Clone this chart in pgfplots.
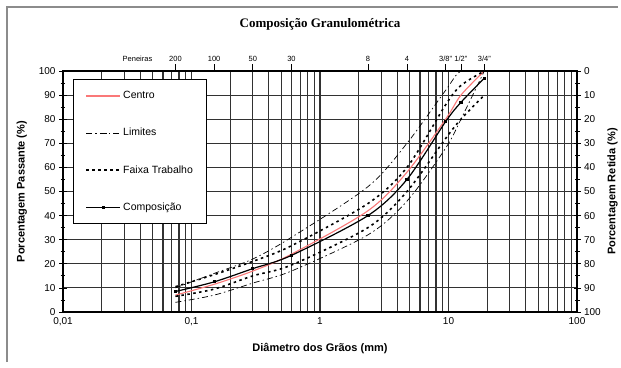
\documentclass[border=0pt]{standalone}
\usepackage{pgfplots}
\pgfplotsset{compat=1.18}
\usepackage{fontspec}
\setmainfont{Liberation Sans}
\newfontfamily\titlefont{Liberation Serif}
\definecolor{centro}{RGB}{250,120,120}
\definecolor{gridc}{RGB}{50,50,50}
\begin{document}
\begin{tikzpicture}
\path[use as bounding box] (0,0) rectangle (621pt,367pt);
\draw[black!45, line width=1.5pt] (7pt,5pt) -- (7pt,360pt) -- (618pt,360pt);
\begin{axis}[
  at={(63pt,55pt)}, anchor=south west, scale only axis,
  width=514pt, height=241pt,
  xmode=log, xmin=0.01, xmax=100, ymin=0, ymax=100,
  /pgf/number format/assume math mode=true,
  xtick={0.01,0.1,1,10,100},
  xticklabels={{0,01},{0,1},1,10,100},
  minor xtick={0.02,0.03,0.04,0.05,0.06,0.07,0.08,0.09,0.2,0.3,0.4,0.5,0.6,0.7,0.8,0.9,2,3,4,5,6,7,8,9,20,30,40,50,60,70,80,90},
  ytick={0,10,...,100}, minor ytick={5,15,...,95},
  xmajorgrids=true, xminorgrids=true, ymajorgrids=true, yminorgrids=false,
  major grid style={gridc, line width=1.1pt},
  minor grid style={gridc, line width=1.1pt},
  xtick pos=bottom, ytick pos=left,
  x tick style={draw=none},
  y tick style={black, line width=0.8pt},
  ytick align=center, major tick length=8pt, minor tick length=5pt,
  axis line style={black, line width=1.2pt},
  tick label style={font=\fontsize{10}{12}\selectfont},
  xticklabel style={yshift=-2pt},
  xlabel={\bfseries Diâmetro dos Grãos (mm)},
  ylabel={\bfseries Porcentagem Passante (\%)},
  label style={font=\fontsize{11}{13}\selectfont},
  xlabel style={at={(axis description cs:0.5,-0.15)}, anchor=center},
  ylabel style={at={(axis description cs:-0.08,0.5)}, anchor=center},
  title={\titlefont\bfseries Composição Granulométrica},
  title style={at={(axis description cs:0.5,1.17)}, anchor=center, font=\fontsize{13}{15}\selectfont},
  legend style={at={(rel axis cs:0.0195,0.967)}, anchor=north west, fill=white,
    draw=black, line width=1.2pt, inner xsep=12pt, inner ysep=10pt, row sep=24pt,
    font=\fontsize{10.5}{12}\selectfont, cells={anchor=west}},
  legend image code/.code={\draw[mark repeat=2,mark phase=2,#1] plot coordinates {(0pt,0pt) (17pt,0pt) (34pt,0pt)};},
]
% Centro
\addplot[centro, line width=1.1pt, smooth, tension=0.5] coordinates {(0.075,7) (0.15,11.5) (0.3,17) (0.6,24) (2.36,42) (4.75,58) (9.5,80) (12.5,90) (19,100)};
\addlegendentry{Centro}
% Limites
\addplot[black, line width=0.7pt, smooth, tension=0.5, dash pattern=on 6pt off 3pt on 1.5pt off 3pt] coordinates {(0.075,10) (0.15,16) (0.3,22) (0.6,31) (2.36,52) (4.75,70) (9.5,92) (12.5,100) (19,100)};
\addlegendentry{Limites}
% Faixa Trabalho
\addplot[black, line width=1.6pt, smooth, tension=0.5, dash pattern=on 2.5pt off 3.5pt] coordinates {(0.075,10.5) (0.15,15.5) (0.3,21) (0.6,27.5) (2.36,45) (4.75,60) (9.5,86) (12.5,94) (19,100)};
\addlegendentry{Faixa Trabalho}
% Composicao
\addplot[black, line width=1.2pt, smooth, tension=0.5, mark=square*, mark size=1pt] coordinates {(0.075,8.5) (0.15,12.5) (0.3,18) (0.6,23.5) (2.36,40) (4.75,55) (9.5,79) (12.5,87) (19,97)};
\addlegendentry{Composição}
\addplot[forget plot, black, line width=0.7pt, smooth, tension=0.5, dash pattern=on 6pt off 3pt on 1.5pt off 3pt] coordinates {(0.075,4) (0.15,7) (0.3,12) (0.6,17) (2.36,32) (4.75,46) (9.5,68) (12.5,80) (19,100)};
\addplot[forget plot, black, line width=1.6pt, smooth, tension=0.5, dash pattern=on 2.5pt off 3.5pt] coordinates {(0.075,6.5) (0.15,9.5) (0.3,15) (0.6,19.5) (2.36,35) (4.75,50) (9.5,72) (12.5,80) (19,90)};
\end{axis}
\begin{axis}[
  at={(63pt,55pt)}, anchor=south west, scale only axis,
  width=514pt, height=241pt,
  xmode=log, xmin=0.01, xmax=100, ymin=0, ymax=100, y dir=reverse,
  /pgf/number format/assume math mode=true,
  axis x line*=top, axis y line*=right,
  axis line style={black, line width=1.2pt, -},
  xtick={0.075,0.15,0.3,0.6,2.36,4.75,9.5,12.5,19},
  xticklabels={200,100,50,30,8,4,{3/8"},{1/2"},{3/4"}},
  extra x ticks={0.038}, extra x tick labels={Peneiras},
  extra x tick style={x tick style={draw=none}},
  minor xtick={},
  x tick label style={font=\fontsize{7.5}{9}\selectfont, yshift=-1pt},
  xtick align=outside,
  x tick style={black, line width=0.8pt},
  ytick={0,10,...,100},
  minor ytick={5,15,...,95},
  ytick align=center,
  y tick style={black, line width=0.8pt},
  major tick length=7pt, minor tick length=5pt,
  y tick label style={font=\fontsize{10}{12}\selectfont},
  ylabel={\bfseries Porcentagem Retida (\%)},
  ylabel style={font=\fontsize{11}{13}\selectfont, at={(axis description cs:1.069,0.5)}, anchor=center, rotate=0},
]
\addplot[draw=none] coordinates {(1,50)};
\end{axis}
\end{tikzpicture}
\end{document}
